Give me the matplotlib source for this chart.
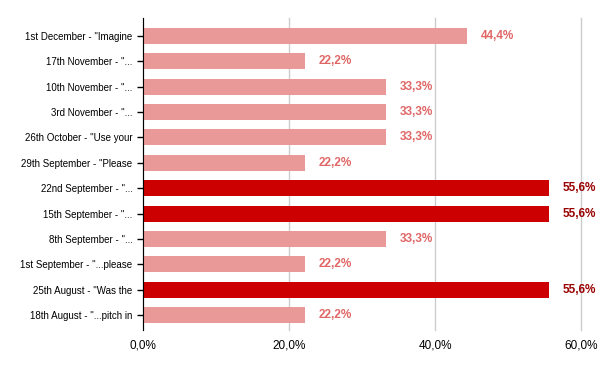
import matplotlib
matplotlib.use("Agg")
import matplotlib.pyplot as plt

categories = ['1st December - "Imagine', '17th November - "...', '10th November - "...',
              '3rd November - "...', '26th October - "Use your', '29th September - "Please',
              '22nd September - "...', '15th September - "...', '8th September - "...',
              '1st September - "...please', '25th August - "Was the', '18th August - "...pitch in']
values = [44.4, 22.2, 33.3, 33.3, 33.3, 22.2, 55.6, 55.6, 33.3, 22.2, 55.6, 22.2]
highlight = [False, False, False, False, False, False, True, True, False, False, True, False]
xticks = [0, 20, 40, 60]
xticklabels = ['0,0%', '20,0%', '40,0%', '60,0%']

plt.rcParams['font.family'] = ['Liberation Sans', 'DejaVu Sans']

fig = plt.figure(figsize=(6, 3.71), dpi=100)
ax = fig.add_axes([143/600, 1-330/371, 438/600, 312/371])

n = len(categories)
ypos = [n - 1 - i for i in range(n)]
light, dark = '#EA9999', '#CC0000'
lab_light, lab_dark = '#E06666', '#990000'

for y, v, h in zip(ypos, values, highlight):
    col = dark if h else light
    ax.barh(y, v, height=0.63, color=col, zorder=3)
    ax.text(v + 1.85, y, f"{v:.1f}%".replace('.', ','), va='center', ha='left',
            fontsize=8.5, fontweight='bold', color=lab_dark if h else lab_light)

ax.set_xlim(0, 60)
ax.set_ylim(-0.59, n - 1 + 0.71)
ax.set_xticks(xticks)
ax.set_xticklabels(xticklabels, fontsize=8.5)
ax.set_yticks(ypos)
ax.set_yticklabels(categories, fontsize=7)
ax.xaxis.grid(True, color='#CCCCCC', linewidth=1, zorder=0)
for line in ax.get_xgridlines():
    line.set_clip_on(False)
for s in ['top', 'right', 'bottom']:
    ax.spines[s].set_visible(False)
ax.spines['left'].set_color('black')
ax.spines['left'].set_zorder(5)
ax.tick_params(axis='x', length=0, pad=7)
ax.tick_params(axis='y', direction='inout', length=9, width=1, pad=3)

fig.savefig('out.png', dpi=100)
